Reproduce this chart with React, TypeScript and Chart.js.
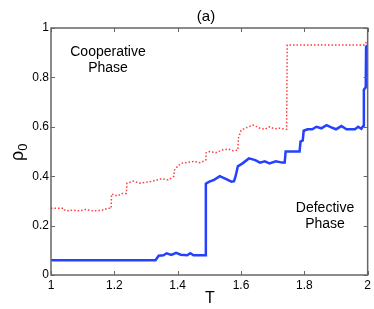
import React, { useEffect, useRef } from "react";
import { Chart, registerables } from "chart.js";

Chart.register(...registerables);

const tBlue = [1.0, 1.33, 1.34, 1.355, 1.365, 1.38, 1.395, 1.41, 1.43, 1.44, 1.45, 1.488, 1.489, 1.5, 1.515, 1.533, 1.55, 1.57, 1.578, 1.583, 1.59, 1.605, 1.625, 1.645, 1.66, 1.675, 1.69, 1.71, 1.73, 1.738, 1.741, 1.785, 1.788, 1.795, 1.798, 1.81, 1.825, 1.838, 1.854, 1.87, 1.885, 1.9, 1.917, 1.933, 1.96, 1.97, 1.98, 1.987, 1.988, 1.994, 1.995, 2.0];
const rhoBlue = [0.06, 0.06, 0.078, 0.08, 0.088, 0.081, 0.09, 0.082, 0.08, 0.088, 0.08, 0.08, 0.37, 0.378, 0.385, 0.4, 0.39, 0.378, 0.38, 0.4, 0.44, 0.452, 0.472, 0.465, 0.455, 0.46, 0.452, 0.46, 0.455, 0.455, 0.5, 0.5, 0.54, 0.545, 0.584, 0.59, 0.59, 0.6, 0.594, 0.607, 0.598, 0.59, 0.603, 0.59, 0.59, 0.6, 0.592, 0.605, 0.75, 0.76, 0.924, 0.93];

const tRed = [1.0, 1.04, 1.045, 1.07, 1.09, 1.11, 1.13, 1.16, 1.18, 1.19, 1.191, 1.21, 1.225, 1.238, 1.24, 1.26, 1.28, 1.3, 1.32, 1.35, 1.37, 1.386, 1.388, 1.39, 1.4, 1.41, 1.43, 1.45, 1.47, 1.485, 1.489, 1.49, 1.5, 1.52, 1.54, 1.56, 1.575, 1.59, 1.592, 1.6, 1.612, 1.625, 1.638, 1.66, 1.675, 1.69, 1.705, 1.722, 1.744, 1.746, 1.99, 2.0];
const rhoRed = [0.27, 0.27, 0.26, 0.262, 0.26, 0.265, 0.26, 0.262, 0.27, 0.27, 0.328, 0.32, 0.33, 0.33, 0.372, 0.38, 0.372, 0.375, 0.38, 0.39, 0.385, 0.398, 0.4, 0.425, 0.44, 0.452, 0.455, 0.46, 0.455, 0.462, 0.466, 0.495, 0.5, 0.495, 0.506, 0.51, 0.503, 0.506, 0.555, 0.585, 0.594, 0.6, 0.607, 0.594, 0.59, 0.6, 0.592, 0.594, 0.59, 0.931, 0.931, 0.95];

const xTicks = [1, 1.2, 1.4, 1.6, 1.8, 2];
const yTicks = [0, 0.2, 0.4, 0.6, 0.8, 1];

const FONT = "'Liberation Sans', Arial, Helvetica, sans-serif";
const fmt = (v: any) => String(Number(Number(v).toFixed(1)));

const overlay = {
  id: "overlay",
  afterDraw(chart: any) {
    const { ctx, chartArea: a, scales } = chart;
    const xs = scales.x;
    const ys = scales.y;
    ctx.save();
    ctx.strokeStyle = "#666";
    ctx.lineWidth = 1.5;
    ctx.strokeRect(a.left, a.top, a.right - a.left, a.bottom - a.top);
    ctx.lineWidth = 1;
    const tl = 4;
    ctx.beginPath();
    xTicks.forEach((v) => {
      const px = Math.round(xs.getPixelForValue(v)) + 0.5;
      ctx.moveTo(px, a.bottom);
      ctx.lineTo(px, a.bottom - tl);
      ctx.moveTo(px, a.top);
      ctx.lineTo(px, a.top + tl);
    });
    yTicks.forEach((v) => {
      const py = Math.round(ys.getPixelForValue(v)) + 0.5;
      ctx.moveTo(a.left, py);
      ctx.lineTo(a.left + tl, py);
      ctx.moveTo(a.right, py);
      ctx.lineTo(a.right - tl, py);
    });
    ctx.stroke();

    ctx.fillStyle = "#000";
    ctx.textAlign = "center";
    ctx.textBaseline = "alphabetic";
    ctx.font = `15px ${FONT}`;
    ctx.fillText("(a)", 206, 21);
    ctx.font = `14px ${FONT}`;
    ctx.fillText("Cooperative", 108, 56);
    ctx.fillText("Phase", 108, 71.5);
    ctx.fillText("Defective", 325, 211.5);
    ctx.fillText("Phase", 325, 228);

    ctx.font = `16px ${FONT}`;
    ctx.fillText("T", 210, 303);

    ctx.save();
    ctx.translate(23, 150);
    ctx.rotate(-Math.PI / 2);
    ctx.textAlign = "left";
    ctx.font = `18px ${FONT}`;
    const rw = ctx.measureText("ρ").width;
    ctx.fillText("ρ", -11, 0);
    ctx.font = `13px ${FONT}`;
    ctx.fillText("0", -11 + rw, 3.5);
    ctx.restore();
    ctx.restore();
  },
};

export default function App() {
  const ref = useRef<HTMLCanvasElement | null>(null);
  useEffect(() => {
    if (!ref.current) return;
    const chart = new Chart(ref.current, {
      type: "line",
      data: {
        datasets: [
          {
            data: tRed.map((t, i) => ({ x: t, y: rhoRed[i] })),
            borderColor: "rgb(255,60,60)",
            borderWidth: 1.5,
            borderDash: [1.5, 2],
            pointRadius: 0,
            tension: 0,
            fill: false,
          },
          {
            data: tBlue.map((t, i) => ({ x: t, y: rhoBlue[i] })),
            borderColor: "rgb(35,65,255)",
            borderWidth: 2.5,
            pointRadius: 0,
            tension: 0,
            fill: false,
          },
        ],
      },
      options: {
        animation: false,
        responsive: true,
        maintainAspectRatio: false,
        layout: { padding: { left: 0, right: 6, top: 28, bottom: 0 } },
        plugins: { legend: { display: false }, tooltip: { enabled: false }, title: { display: false } },
        scales: {
          x: {
            type: "linear",
            min: 1,
            max: 2,
            afterFit: (s: any) => { s.height = 34; },
            afterBuildTicks: (s: any) => { s.ticks = xTicks.map((v) => ({ value: v })); },
            grid: { display: false, drawTicks: false },
            border: { display: false },
            ticks: { padding: 3, color: "#000", font: { family: FONT, size: 12 }, maxRotation: 0, autoSkip: false, callback: fmt },
          },
          y: {
            type: "linear",
            min: 0,
            max: 1,
            afterFit: (s: any) => { s.width = 51; },
            afterBuildTicks: (s: any) => { s.ticks = yTicks.map((v) => ({ value: v })); },
            grid: { display: false, drawTicks: false },
            border: { display: false },
            ticks: { padding: 2, color: "#000", font: { family: FONT, size: 12 }, callback: fmt },
          },
        },
      },
      plugins: [overlay],
    });
    return () => chart.destroy();
  }, []);
  return (
    <div style={{ position: "absolute", left: 0, top: 0, width: 374, height: 309, background: "#fff" }}>
      <canvas ref={ref} />
    </div>
  );
}
